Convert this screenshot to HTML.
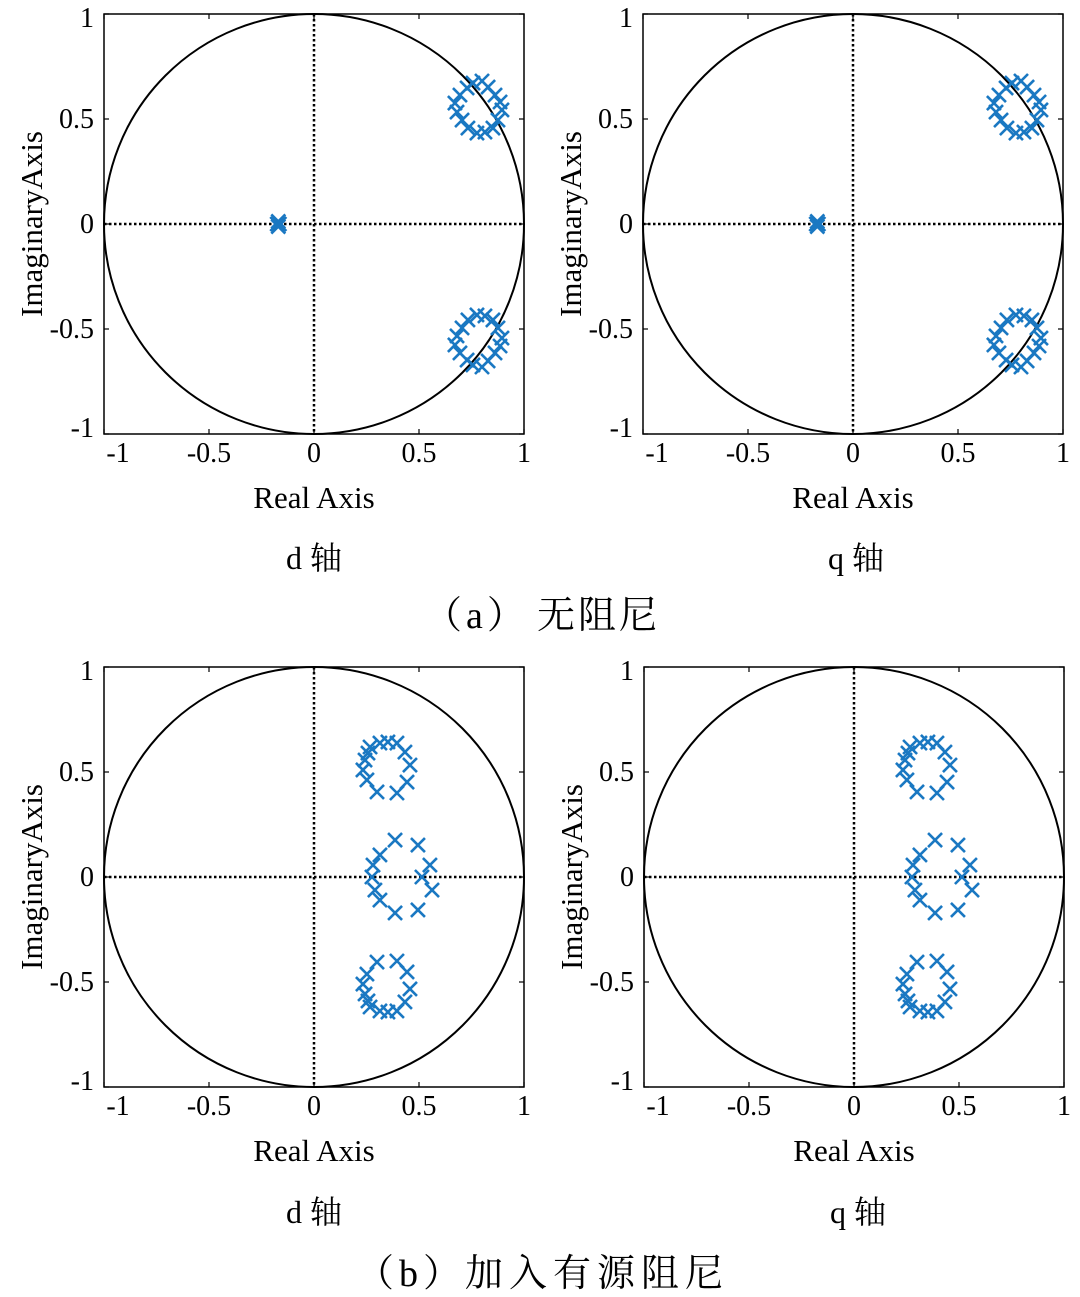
<!DOCTYPE html>
<html><head><meta charset="utf-8">
<style>
body{margin:0;background:#fff;}
svg{display:block;font-family:"Liberation Serif","Noto Serif CJK SC",serif;}
</style></head>
<body>
<svg id="fig" width="1080" height="1297" viewBox="0 0 1080 1297" xmlns="http://www.w3.org/2000/svg">
<text x="314" y="569" font-size="32" text-anchor="middle">d 轴</text>
<text x="856" y="569" font-size="32" text-anchor="middle">q 轴</text>
<text x="424" y="628" font-size="38" letter-spacing="4">（a）</text>
<text x="537" y="628" font-size="38" letter-spacing="3">无阻尼</text>
<text x="314" y="1223" font-size="32" text-anchor="middle">d 轴</text>
<text x="858" y="1223" font-size="32" text-anchor="middle">q 轴</text>
<text x="356" y="1286" font-size="38" letter-spacing="5">（b）</text>
<text x="465" y="1286" font-size="38" letter-spacing="6">加入有源阻尼</text>
</svg>
<script>
// Case (a): no damping — upper-half poles (conjugates mirrored)
const poleReA = [0.757,0.800,0.829,0.862,0.886,0.895,0.876,0.852,0.814,0.776,0.733,0.705,0.681,0.671,0.695,0.729];
const poleImA = [0.671,0.681,0.652,0.614,0.581,0.543,0.495,0.457,0.438,0.433,0.457,0.495,0.533,0.576,0.614,0.648];
const realPoleReA = [-0.17,-0.17,-0.165,-0.175];
const realPoleImA = [0.012,-0.012,0.0,0.0];
// Case (b): active damping
const poleReB = [0.267,0.314,0.352,0.395,0.433,0.457,0.443,0.395,0.300,0.252,0.233,0.243,0.257];
const poleImB = [0.619,0.638,0.643,0.638,0.595,0.533,0.452,0.400,0.405,0.462,0.510,0.557,0.590];
const midReB = [0.386,0.314,0.281,0.276,0.290,0.314,0.386,0.495,0.552,0.514,0.562,0.495];
const midImB = [0.176,0.105,0.057,0.0,-0.062,-0.110,-0.171,0.152,0.057,0.0,-0.062,-0.157];
const xTicks = [-1,-0.5,0,0.5,1];
const xTickLabels = ["-1","-0.5","0","0.5","1"];
const yTicks = [1,0.5,0,-0.5,-1];
const yTickLabels = ["1","0.5","0","-0.5","-1"];

const NS="http://www.w3.org/2000/svg";
const svg=document.getElementById('fig');
function mk(tag,attrs,parent){const e=document.createElementNS(NS,tag);for(const k in attrs)e.setAttribute(k,attrs[k]);(parent||svg).appendChild(e);return e;}

function panel(id,cx,cy,R,re,im,re2,im2){
  const g=mk('g',{});
  
  
  const sx=v=>cx+v*R, sy=v=>cy-v*R;
  const box=mk('rect',{x:cx-R,y:cy-R,width:2*R,height:2*R,fill:'none',stroke:'#000','stroke-width':1.5},g);
  
  
  const circ=mk('circle',{cx:cx,cy:cy,r:R,fill:'none',stroke:'#000','stroke-width':2},g);
  
  
  const h=mk('line',{x1:cx-R,y1:cy,x2:cx+R,y2:cy,stroke:'#000','stroke-width':2.5,'stroke-dasharray':'2.5 2.5'},g);
  
  
  const v=mk('line',{x1:cx,y1:cy-R,x2:cx,y2:cy+R,stroke:'#000','stroke-width':2.5,'stroke-dasharray':'2.5 2.5'},g);
  
  
  xTicks.forEach((t,i)=>{
    mk('line',{x1:sx(t),y1:cy+R,x2:sx(t),y2:cy+R-5,stroke:'#000','stroke-width':1.2},g);
    mk('line',{x1:sx(t),y1:cy-R,x2:sx(t),y2:cy-R+5,stroke:'#000','stroke-width':1.2},g);
    const off = i===0?14:(i===4?0:0);
    const tx=mk('text',{x:sx(t)+off,y:cy+R+28,'font-size':28,'text-anchor':'middle'},g);
    tx.textContent=xTickLabels[i];
    
    
  });
  yTicks.forEach((t,i)=>{
    mk('line',{x1:cx-R,y1:sy(t),x2:cx-R+5,y2:sy(t),stroke:'#000','stroke-width':1.2},g);
    mk('line',{x1:cx+R,y1:sy(t),x2:cx+R-5,y2:sy(t),stroke:'#000','stroke-width':1.2},g);
    const off = i===0?4:(i===4?-6:0);
    const ty=mk('text',{x:cx-R-10,y:sy(t)+9+off,'font-size':28,'text-anchor':'end'},g);
    ty.textContent=yTickLabels[i];
    
    
  });
  const xt=mk('text',{x:cx,y:cy+R+74,'font-size':31,'text-anchor':'middle'},g);
  xt.textContent='Real Axis';
  
  
  const yt=mk('text',{x:0,y:0,'font-size':31,'text-anchor':'middle',transform:`translate(${cx-R-62},${cy}) rotate(-90)`},g);
  yt.textContent='ImaginaryAxis';
  
  
  const s=7;
  function cross(x,y){
    const p=mk('path',{d:`M${sx(x)-s},${sy(y)-s}L${sx(x)+s},${sy(y)+s}M${sx(x)-s},${sy(y)+s}L${sx(x)+s},${sy(y)-s}`,stroke:'#1a78c2','stroke-width':2.6,fill:'none'},g);
    
    
  }
  re.forEach((x,i)=>{cross(x,im[i]);cross(x,-im[i]);});
  re2.forEach((x,i)=>{cross(x,im2[i]);});
}
panel('pole-map-a-d',314,224,210,poleReA,poleImA,realPoleReA,realPoleImA);
panel('pole-map-a-q',853,224,210,poleReA,poleImA,realPoleReA,realPoleImA);
panel('pole-map-b-d',314,877,210,poleReB,poleImB,midReB,midImB);
panel('pole-map-b-q',854,877,210,poleReB,poleImB,midReB,midImB);
</script>
</body></html>
